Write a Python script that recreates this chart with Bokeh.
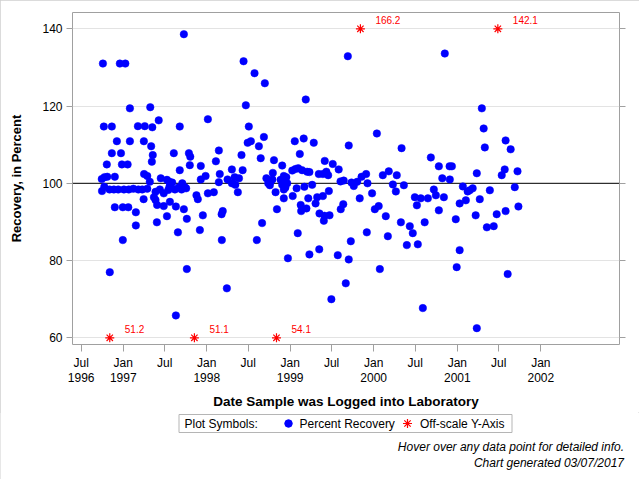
import numpy as np
import pandas as pd
from bokeh.plotting import figure
from bokeh.layouts import column
from bokeh.models import Range1d, FixedTicker, LinearAxis, Span, ColumnDataSource
from bokeh.core.properties import value
from bokeh.embed import file_html
from bokeh.resources import INLINE

FONT = "Liberation Sans"

sample_dates = [
    "1996-09-29", "1996-09-30", "1996-10-04", "1996-10-08", "1996-10-11", "1996-10-10", "1996-10-21", "1996-10-23",
    "1996-11-02", "1996-11-03", "1996-11-12", "1996-11-12", "1996-11-21", "1996-11-25", "1996-11-25", "1996-12-04",
    "1996-12-10", "1996-12-17", "1996-12-22", "1996-12-26", "1996-12-30", "1996-12-30",
    "1997-01-04", "1997-01-10", "1997-01-20", "1997-01-23", "1997-01-25", "1997-01-30", "1997-01-30", "1997-02-14",
    "1997-02-25", "1997-02-25", "1997-03-06", "1997-03-08", "1997-03-25", "1997-04-01", "1997-04-02", "1997-03-31",
    "1997-04-05", "1997-04-16", "1997-04-16", "1997-04-27", "1997-04-29", "1997-05-03", "1997-05-08", "1997-05-06",
    "1997-05-10", "1997-05-15", "1997-05-22", "1997-05-22", "1997-05-29", "1997-05-28", "1997-06-05", "1997-06-10",
    "1997-06-14", "1997-06-27", "1997-06-27", "1997-07-11", "1997-07-11", "1997-07-17", "1997-07-22", "1997-07-22",
    "1997-07-24", "1997-08-03", "1997-08-10", "1997-08-15", "1997-08-19", "1997-08-19", "1997-08-28", "1997-09-01",
    "1997-09-05", "1997-09-05", "1997-09-16", "1997-09-13", "1997-09-23", "1997-09-23", "1997-09-27", "1997-10-03",
    "1997-10-06", "1997-10-06", "1997-10-15", "1997-10-21", "1997-10-19", "1997-11-17", "1997-11-23", "1997-12-02",
    "1997-12-06", "1997-12-06", "1997-12-15", "1997-12-27",
    "1998-01-06", "1998-01-06", "1998-02-01", "1998-02-10", "1998-02-23", "1998-02-27", "1998-02-23", "1998-03-07",
    "1998-03-12", "1998-03-08", "1998-03-30", "1998-04-02", "1998-04-21", "1998-04-21", "1998-05-03", "1998-05-06",
    "1998-05-17", "1998-05-22", "1998-06-02", "1998-06-07", "1998-06-11", "1998-06-21", "1998-07-04", "1998-06-29",
    "1998-07-13", "1998-07-29", "1998-08-08", "1998-08-17", "1998-08-25", "1998-08-31", "1998-09-08", "1998-09-12",
    "1998-09-19", "1998-09-27", "1998-10-04", "1998-10-07", "1998-10-15", "1998-10-17", "1998-10-22", "1998-10-29",
    "1998-11-04", "1998-11-20", "1998-11-27", "1998-11-27", "1998-12-04", "1998-12-04", "1998-12-04", "1998-12-08",
    "1998-12-15", "1998-12-19", "1998-12-11", "1998-12-22",
    "1999-01-10", "1999-01-12", "1999-01-21", "1999-01-24", "1999-01-29", "1999-02-05", "1999-02-03", "1999-02-12",
    "1999-02-16", "1999-02-18", "1999-02-22", "1999-03-01", "1999-03-04", "1999-03-10", "1999-03-13", "1999-03-16",
    "1999-03-21", "1999-03-26", "1999-03-26", "1999-04-07", "1999-04-14", "1999-04-22", "1999-04-29", "1999-05-06",
    "1999-05-08", "1999-05-09", "1999-05-24", "1999-05-24", "1999-05-28", "1999-05-31", "1999-06-01", "1999-06-08",
    "1999-06-16", "1999-06-19", "1999-06-22", "1999-06-30", "1999-07-06", "1999-07-28", "1999-08-01", "1999-08-09",
    "1999-08-10", "1999-08-21", "1999-08-23", "1999-09-01", "1999-09-10", "1999-09-14", "1999-09-14", "1999-09-23",
    "1999-09-26", "1999-10-06", "1999-10-21", "1999-11-01", "1999-11-09", "1999-11-29", "1999-12-02", "1999-12-05",
    "1999-12-25",
    "2000-01-06", "2000-01-15", "2000-01-23", "2000-01-28", "2000-02-10", "2000-02-23", "2000-03-03", "2000-03-07",
    "2000-03-25", "2000-04-07", "2000-04-11", "2000-04-29", "2000-05-02", "2000-05-12", "2000-05-25", "2000-06-07",
    "2000-06-20", "2000-06-29", "2000-07-08", "2000-07-12", "2000-07-25", "2000-08-03", "2000-08-11", "2000-08-25",
    "2000-09-07", "2000-09-20", "2000-09-29", "2000-10-12", "2000-10-12", "2000-10-27", "2000-11-03", "2000-11-07",
    "2000-11-28", "2000-11-29", "2000-12-08", "2000-12-25", "2000-12-29",
    "2001-01-11", "2001-01-11", "2001-01-25", "2001-02-07", "2001-02-15", "2001-02-24", "2001-03-09", "2001-03-22",
    "2001-03-27", "2001-03-27", "2001-04-09", "2001-04-18", "2001-04-26", "2001-05-01", "2001-05-10", "2001-05-23",
    "2001-06-09", "2001-06-22", "2001-07-14", "2001-07-27", "2001-07-31", "2001-07-31", "2001-08-09", "2001-08-22",
    "2001-09-09", "2001-09-21", "2001-09-25",
]
recovery_pct = [
    101.1, 98.0, 131.0, 114.7, 101.6, 99.1, 104.9, 101.7,
    98.4, 77.0, 114.7, 107.8, 98.4, 101.7, 93.8, 110.9,
    98.4, 131.0, 107.8, 104.9, 93.8, 85.3,
    98.4, 131.0, 104.9, 93.8, 98.4, 119.4, 110.9, 98.6,
    92.5, 89.1, 114.8, 98.4, 98.4, 110.9, 102.4, 95.9,
    114.8, 101.9, 98.6, 100.4, 119.7, 109.6, 114.5, 105.6,
    107.3, 96.4, 95.7, 97.8, 94.4, 89.9, 116.3, 98.4,
    101.3, 97.4, 94.1, 100.9, 91.5, 98.3, 100.4, 99.1,
    95.2, 100.2, 107.8, 98.4, 94.0, 65.8, 87.3, 99.0,
    114.7, 103.4, 100.0, 98.4, 138.6, 93.3, 99.0, 98.7,
    90.8, 77.8, 107.8, 106.9, 104.7, 96.9, 95.9, 87.9,
    104.5, 101.0, 91.7, 101.9,
    116.6, 97.4, 97.7, 105.7, 108.5, 102.4, 100.3, 92.0,
    92.8, 85.3, 72.8, 101.0, 103.6, 100.0, 101.6, 99.6,
    97.7, 101.3, 107.3, 103.4, 131.6, 120.2, 114.7, 110.5,
    110.9, 128.5, 85.3, 109.6, 106.5, 89.7, 112.0, 125.9,
    101.3, 100.0, 99.5, 100.4, 101.0, 102.7, 106.0, 97.7,
    93.3, 100.9, 104.6, 99.6, 101.9, 98.4, 96.1, 100.4,
    101.6, 100.0, 98.9, 80.6,
    103.3, 96.7, 110.9, 103.7, 98.7, 103.9, 87.1, 107.6,
    94.4, 92.8, 103.4, 111.6, 99.1, 121.7, 93.5, 103.0,
    96.1, 102.9, 81.6, 99.6, 110.5, 94.8, 96.4, 102.4,
    82.9, 92.2, 102.4, 96.7, 90.3, 91.6, 105.8, 103.0,
    102.1, 98.0, 91.7, 70.0, 105.0, 81.4, 103.6, 100.5,
    93.3, 94.6, 100.7, 74.1, 132.9, 109.8, 80.3, 85.0,
    100.2, 99.3, 100.4, 96.1, 101.7, 102.4, 87.3, 100.0,
    97.4,
    93.3, 112.9, 94.1, 77.8, 102.1, 91.5, 86.3, 103.1,
    99.7, 97.9, 102.1, 89.9, 109.1, 99.5, 84.0, 88.9,
    87.1, 96.4, 94.3, 84.2, 96.1, 67.7, 89.9, 96.1,
    106.7, 98.4, 96.9, 104.4, 93.0, 101.3, 96.4, 133.6,
    104.4, 101.0, 104.4, 90.7, 78.3,
    94.8, 82.7, 99.2, 95.6, 97.9, 98.2, 98.7, 91.7,
    102.6, 62.5, 95.9, 119.4, 114.2, 109.3, 88.6, 98.2,
    88.9, 92.0, 102.1, 103.6, 111.1, 92.8, 76.5, 108.8,
    99.0, 103.1, 94.0,
]

offscale_dates = ["1996-11-03", "1997-11-08", "1998-11-02", "1999-11-04", "2001-06-27"]
offscale_values = [51.2, 51.1, 54.1, 166.2, 142.1]

y_ticks = [60, 80, 100, 120, 140]
x_tick_dates = ["1996-07-01", "1997-01-01", "1997-07-01", "1998-01-01", "1998-07-01", "1999-01-01",
                "1999-07-01", "2000-01-01", "2000-07-01", "2001-01-01", "2001-07-01", "2002-01-01"]
x_tick_labels = ["Jul\n1996", "Jan\n1997", "Jul", "Jan\n1998", "Jul", "Jan\n1999",
                 "Jul", "Jan\n2000", "Jul", "Jan\n2001", "Jul", "Jan\n2002"]
reference_level = 100
y_limits = (58.27, 144.22)
x_limits = ("1996-05-24", "2002-12-11")

legend_labels = ["Plot Symbols:", "Percent Recovery", "Off-scale Y-Axis"]
footnotes = ["Hover over any data point for detailed info.", "Chart generated 03/07/2017"]
x_title = "Date Sample was Logged into Laboratory"
y_title = "Recovery, in Percent"

FRAME = "#a0a0a0"
BLUE = "#0000ff"
RED = "#ff0000"
W = 639
H1, H2 = 412, 67

# ---------------- main plot ----------------
p = figure(width=W, height=H1, x_axis_type="datetime", output_backend="svg",
           toolbar_location=None,
           x_range=Range1d(pd.Timestamp(x_limits[0]), pd.Timestamp(x_limits[1])),
           y_range=Range1d(*y_limits),
           min_border_left=72, min_border_right=20, min_border_top=12, min_border_bottom=68)
p.background_fill_color = "white"
p.border_fill_color = "white"
p.outline_line_color = FRAME
p.outline_line_width = 1

p.xgrid.visible = False
p.ygrid.ticker = FixedTicker(ticks=y_ticks)
p.ygrid.grid_line_color = "#e3e3e3"
p.ygrid.grid_line_width = 1

p.add_layout(Span(location=reference_level, dimension="width", line_color="black",
                  line_width=1, level="underlay"))

src = ColumnDataSource(dict(x=pd.to_datetime(sample_dates), y=recovery_pct))
p.scatter("x", "y", source=src, marker="circle", size=7.5,
          fill_color=BLUE, line_color=BLUE, line_width=0.5)

off_y = np.clip(offscale_values, y_ticks[0], y_ticks[-1])
off_src = ColumnDataSource(dict(x=pd.to_datetime(offscale_dates), y=off_y,
                                lab=[f"{v:.1f}" for v in offscale_values]))
p.scatter("x", "y", source=off_src, marker="asterisk", size=9,
          line_color=RED, line_width=1.2)
p.text("x", "y", text="lab", source=off_src, x_offset=15, y_offset=-9,
       text_font=value(FONT), text_font_size="10px", text_color=RED,
       text_baseline="middle", text_align="left")

tick_ms = [int(pd.Timestamp(d).value // 10**6) for d in x_tick_dates]
xa = p.xaxis[0]
xa.ticker = FixedTicker(ticks=tick_ms)
xa.major_label_overrides = dict(zip(tick_ms, x_tick_labels))
xa.axis_label = x_title
xa.axis_line_color = None
xa.major_tick_line_color = FRAME
xa.major_tick_out = 7
xa.major_tick_in = 0
xa.minor_tick_out = 0
xa.minor_tick_in = 0
xa.major_label_standoff = 4
xa.major_label_text_font = FONT
xa.major_label_text_font_size = "12px"
xa.major_label_text_color = "black"
xa.major_label_text_line_height = 1.1
xa.axis_label_text_font = FONT
xa.axis_label_text_font_size = "13.5px"
xa.axis_label_text_font_style = "bold"
xa.axis_label_text_color = "black"
xa.axis_label_standoff = 6

ya = p.yaxis[0]
ya.ticker = FixedTicker(ticks=y_ticks)
ya.axis_label = y_title
ya.axis_line_color = None
ya.major_tick_line_color = FRAME
ya.major_tick_out = 6
ya.major_tick_in = 0
ya.minor_tick_out = 0
ya.minor_tick_in = 0
ya.major_label_standoff = 4
ya.major_label_text_font = FONT
ya.major_label_text_font_size = "12px"
ya.major_label_text_color = "black"
ya.axis_label_text_font = FONT
ya.axis_label_text_font_size = "13px"
ya.axis_label_text_font_style = "bold"
ya.axis_label_text_color = "black"
ya.axis_label_standoff = 15

ra = LinearAxis(ticker=FixedTicker(ticks=y_ticks), axis_line_color=None,
                major_tick_line_color=FRAME, major_tick_out=6, major_tick_in=0,
                minor_tick_out=0, minor_tick_in=0,
                major_label_overrides={t: "" for t in y_ticks},
                major_label_standoff=0)
p.add_layout(ra, "right")

# ---------------- legend + footnotes strip (pixel coordinates) ----------------
q = figure(width=W, height=H2, output_backend="svg", toolbar_location=None,
           x_range=Range1d(0, W), y_range=Range1d(0, H2),
           x_axis_type=None, y_axis_type=None,
           min_border_left=0, min_border_right=0, min_border_top=0, min_border_bottom=0)
if "frame_align" in q.properties():
    q.frame_align = False
q.outline_line_color = None
q.background_fill_color = "white"
q.border_fill_color = "white"
q.xgrid.visible = False
q.ygrid.visible = False

top_abs = H1  # page y of the strip's top edge
def sy(abs_y):
    return H2 - (abs_y - top_abs)

box_l, box_r = 178.5, 511.5
box_t, box_b = sy(414), sy(432)
mid = (box_b + box_t) / 2
q.quad(left=[box_l], right=[box_r], bottom=[box_b], top=[box_t],
       fill_color="white", line_color="#b5b5b5", line_width=1)
q.text(x=[184, 299, 419.5], y=[mid] * 3, text=legend_labels,
       text_font=value(FONT), text_font_size="12px", text_color="black",
       text_baseline="middle", text_align="left")
q.scatter(x=[288], y=[mid], marker="circle", size=7.5, fill_color=BLUE, line_color=BLUE)
q.scatter(x=[407], y=[mid], marker="asterisk", size=9, line_color=RED, line_width=1.2)
q.text(x=[623.5, 623.5], y=[sy(446.7), sy(462.7)], text=footnotes,
       text_font=value(FONT), text_font_size="12px", text_font_style="italic",
       text_color="black", text_baseline="middle", text_align="right")

layout = column(p, q, spacing=0,
                styles={"outline": "1px solid #cfcfcf", "outline-offset": "-1px"})
open("out.html", "w").write(file_html(layout, INLINE))
